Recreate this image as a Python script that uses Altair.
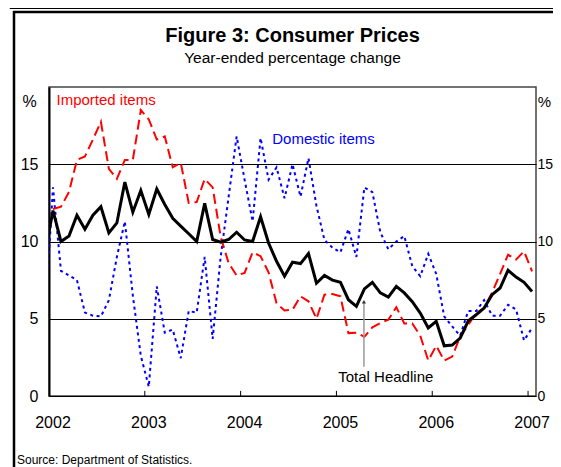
import altair as alt
import pandas as pd

FONT = "Liberation Sans Narrow, Arial Narrow, Liberation Sans, sans-serif"

# month index: -1 = Dec 2001, 0 = Jan 2002 ... 60 = Jan 2007
month_index = list(range(-1, 61))
total_headline = [9.3,
    12.0, 10.0, 10.35, 11.7, 10.8, 11.7, 12.25, 10.56, 11.2, 13.85, 11.9, 13.3,
    11.75, 13.4, 12.4, 11.5, 11.0, 10.5, 10.0, 12.47, 10.13, 9.96, 10.13, 10.6,
    10.1, 10.0, 11.6, 9.9, 8.72, 7.75, 8.66, 8.57, 9.22, 7.3, 7.8, 7.5,
    7.36, 6.23, 5.8, 6.93, 7.36, 6.67, 6.4, 7.1, 6.67, 6.1, 5.37, 4.4,
    4.83, 3.25, 3.3, 3.75, 4.85, 5.26, 5.69, 6.56, 6.99, 8.14, 7.7, 7.36,
    6.77]
imported_items = [None,
    12.1, 12.25, 13.2, 15.28, 15.5, 16.6, 17.75, 14.7, 14.05, 15.28, 15.28, 18.5,
    17.9, 16.6, 16.8, 14.8, 15.1, 12.5, 12.55, 14.05, 13.5, 10.3, 8.6, 7.8,
    7.97, 9.3, 9.05, 8.0, 6.0, 5.54, 5.58, 6.45, 6.13, 5.0, 6.56, 6.6,
    6.45, 4.07, 4.1, 3.83, 4.45, 4.72, 4.94, 5.75, 4.7, 4.7, 3.9, 2.3,
    3.25, 2.29, 2.55, 3.85, 4.6, 5.35, 5.7, 6.7, 7.9, 9.15, 8.83, 9.37,
    8.07]
domestic_items = [5.0,
    13.5, 8.1, 7.8, 7.5, 5.4, 5.2, 5.15, 6.2, 9.0, 11.3, 6.5, 2.6,
    0.6, 7.1, 4.1, 4.3, 2.45, 5.5, 5.4, 9.0, 3.7, 9.0, 12.9, 16.8,
    14.0, 11.3, 16.7, 14.0, 14.8, 12.8, 15.0, 12.9, 15.4, 12.3, 10.1, 9.6,
    9.3, 10.8, 9.0, 13.5, 13.2, 10.6, 9.5, 10.0, 10.35, 8.4, 7.75, 9.2,
    7.9, 5.15, 4.5, 3.9, 5.5, 5.5, 6.2, 5.2, 5.2, 5.9, 5.6, 3.6,
    4.4]

year_labels = [2002, 2003, 2004, 2005, 2006, 2007]
inner_ticks = [2003, 2004, 2005, 2006, 2007]
y_ticks = [0, 5, 10, 15]

series_labels = ["Imported items", "Domestic items", "Total Headline"]
label_t = [2002.078, 2004.33, 2005.019]
label_v = [19.16, 16.62, 1.25]
label_colors = ["#ff0000", "#0000ff", "#000000"]

arrow_t = [2005.287]
arrow_v_from = [1.9]
arrow_v_to = [6.1]

leader_t = [2002.948]
leader_t2 = [2002.98]
leader_v = [18.57]
leader_v2 = [18.38]

source_text = "Source: Department of Statistics."

df = pd.DataFrame({
    "k": month_index,
    "Total Headline": total_headline,
    "Imported items": imported_items,
    "Domestic items": domestic_items,
})
df["t"] = 2002 + (df["k"] + 0.5) / 12.0
long = df.melt(id_vars=["k", "t"], var_name="series", value_name="v").dropna()

xscale = alt.Scale(domain=[2002, 2007.083], nice=False, zero=False)
yscale = alt.Scale(domain=[0, 20], nice=False, zero=True)

xaxis = alt.Axis(values=year_labels, title=None, tickSize=0, labels=False,
                 domainColor="black", domainWidth=2, grid=False)
yaxis_left = alt.Axis(orient="left", values=y_ticks, tickSize=0, labelPadding=11,
                      labelFont=FONT, labelFontSize=16, labelColor="black",
                      grid=True, gridColor="black", gridWidth=1,
                      domainColor="black", domainWidth=2,
                      title="%", titleAngle=0, titleX=-20, titleY=14,
                      titleAlign="center", titleBaseline="middle",
                      titleFont=FONT, titleFontSize=16, titleFontWeight="normal",
                      titleColor="black")
yaxis_right = alt.Axis(orient="right", values=y_ticks, tickSize=0, labelPadding=1,
                       labelFont=FONT, labelFontSize=14, labelColor="black",
                       grid=False, domain=False,
                       title="%", titleAngle=0, titleX=8, titleY=14,
                       titleAlign="center", titleBaseline="middle",
                       titleFont=FONT, titleFontSize=15, titleFontWeight="normal",
                       titleColor="black")

base = alt.Chart(long)

domestic = base.transform_filter(alt.datum.series == "Domestic items").mark_line(
    color="#0000ff", strokeWidth=2, strokeDash=[3, 3.5], clip=True
).encode(
    x=alt.X("t:Q", scale=xscale, axis=xaxis),
    y=alt.Y("v:Q", scale=yscale, axis=yaxis_left),
    order="k:Q",
)
imported = base.transform_filter(alt.datum.series == "Imported items").mark_line(
    color="#ff0000", strokeWidth=2, strokeDash=[10, 5], clip=True
).encode(
    x=alt.X("t:Q", scale=xscale, axis=None),
    y=alt.Y("v:Q", scale=yscale, axis=None),
    order="k:Q",
)
total = base.transform_filter(alt.datum.series == "Total Headline").mark_line(
    color="#000000", strokeWidth=3, clip=True
).encode(
    x=alt.X("t:Q", scale=xscale, axis=None),
    y=alt.Y("v:Q", scale=yscale, axis=yaxis_right),
    order="k:Q",
)

ticks = alt.Chart(pd.DataFrame({"t": inner_ticks})).mark_rule(
    color="black", strokeWidth=1
).encode(
    x=alt.X("t:Q", scale=xscale, axis=None),
    y=alt.Y(datum=0, scale=yscale, axis=None),
    y2=alt.Y2(datum=0.33),
)

year_text = alt.Chart(pd.DataFrame({"t": year_labels})).mark_text(
    align="center", baseline="middle", font=FONT, fontSize=16, color="black", dx=4
).encode(
    x=alt.X("t:Q", scale=xscale, axis=None),
    y=alt.Y(datum=-1.75, scale=yscale, axis=None),
    text=alt.Text("t:Q", format="d"),
)

labels = alt.Chart(pd.DataFrame({
    "label": series_labels, "t": label_t, "v": label_v, "c": label_colors
})).mark_text(align="left", baseline="middle", font=FONT, fontSize=15).encode(
    x=alt.X("t:Q", scale=xscale, axis=None),
    y=alt.Y("v:Q", scale=yscale, axis=None),
    text="label:N",
    color=alt.Color("c:N", scale=None),
)

arrow_df = pd.DataFrame({"t": arrow_t, "v": arrow_v_from, "v2": arrow_v_to})
arrow_line = alt.Chart(arrow_df).mark_rule(color="#999999", strokeWidth=1.5).encode(
    x=alt.X("t:Q", scale=xscale, axis=None),
    y=alt.Y("v:Q", scale=yscale, axis=None),
    y2="v2:Q",
)
arrow_head = alt.Chart(arrow_df).mark_point(
    shape="triangle-up", filled=True, color="#333333", size=18, opacity=1
).encode(
    x=alt.X("t:Q", scale=xscale, axis=None),
    y=alt.Y("v2:Q", scale=yscale, axis=None),
)

leader = alt.Chart(pd.DataFrame({
    "t": leader_t, "t2": leader_t2, "v": leader_v, "v2": leader_v2
})).mark_rule(color="#ff0000", strokeWidth=1.5).encode(
    x=alt.X("t:Q", scale=xscale, axis=None),
    x2="t2:Q",
    y=alt.Y("v:Q", scale=yscale, axis=None),
    y2="v2:Q",
)

# page frame (box around the figure)
frame_left = alt.Chart(pd.DataFrame({"a": [0]})).mark_rule(
    color="black", strokeWidth=2.5
).encode(x=alt.value(-35), y=alt.value(-76), y2=alt.value(385))
frame_top = alt.Chart(pd.DataFrame({"a": [0]})).mark_rule(
    color="black", strokeWidth=2.5
).encode(x=alt.value(-36), x2=alt.value(520), y=alt.value(-75))
prev_bottom = alt.Chart(pd.DataFrame({"a": [0]})).mark_rule(
    color="black", strokeWidth=3
).encode(x=alt.value(-39), x2=alt.value(520), y=alt.value(-79.5))
prev_left = alt.Chart(pd.DataFrame({"a": [0]})).mark_rule(
    color="black", strokeWidth=2.5
).encode(x=alt.value(-38), y=alt.value(-90), y2=alt.value(-78))
source = alt.Chart(pd.DataFrame({"label": [source_text]})).mark_text(
    align="left", baseline="alphabetic", font=FONT, fontSize=12, color="black"
).encode(text="label:N", x=alt.value(-32), y=alt.value(377))

chart = alt.layer(
    domestic, imported, total, ticks, year_text, labels, arrow_line, arrow_head,
    leader, frame_left, frame_top, prev_bottom, prev_left, source,
).resolve_axis(y="independent").properties(
    width=487,
    height=309,
    padding={"left": 41, "top": 79, "right": 17, "bottom": 71},
    autosize=alt.AutoSizeParams(type="none"),
    title=alt.TitleParams(
        text="Figure 3: Consumer Prices",
        subtitle="Year-ended percentage change",
        font=FONT, fontSize=20, fontWeight="bold", color="black",
        subtitleFont=FONT, subtitleFontSize=15.5, subtitleColor="black",
        anchor="middle", frame="group", offset=-70.5, subtitlePadding=4.5,
    ),
).configure_view(stroke="#444444", strokeWidth=1.5)

chart.save("out.html", embed_options={"renderer": "svg", "actions": False})
